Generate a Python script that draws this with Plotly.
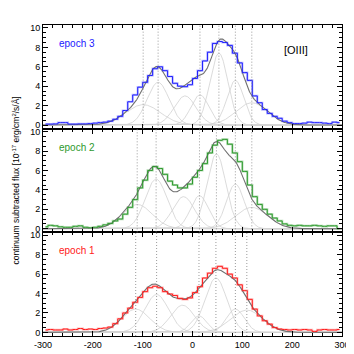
import numpy as np
import plotly.graph_objects as go

# ---------------- data ----------------
velocity = list(range(-295, 300, 10))  # bin centres, km/s

flux_epoch3 = [0.10, 0.10, 0.12, 0.25, 0.25, 0.10, 0.10, 0.12, 0.12, 0.15,
               0.20, 0.25, 0.30, 0.40, 0.60, 0.90, 1.50, 2.40, 3.10, 3.90,
               4.40, 5.10, 5.80, 6.00, 5.60, 5.00, 4.30, 4.00, 3.95, 4.15,
               4.80, 5.60, 6.60, 7.50, 8.40, 8.60, 8.50, 8.20, 7.40, 6.40,
               5.40, 4.60, 3.00, 2.30, 1.60, 1.20, 0.90, 0.70, 0.40, 0.25,
               0.15, 0.15, 0.20, 0.30, 0.25, 0.25, 0.20, 0.15, 0.30, 0.25]

flux_epoch2 = [0.20, 0.35, 0.30, 0.20, 0.15, 0.15, 0.25, 0.30, 0.15, 0.10,
               0.15, 0.25, 0.40, 0.55, 0.80, 1.00, 1.50, 2.20, 3.00, 4.20,
               5.00, 6.00, 6.40, 6.20, 5.60, 4.90, 4.50, 4.20, 4.20, 4.60,
               5.30, 6.00, 6.70, 7.80, 8.60, 9.10, 9.20, 8.70, 7.80, 6.90,
               5.90, 4.50, 3.30, 2.50, 2.00, 1.50, 1.10, 0.80, 0.50, 0.35,
               0.30, 0.35, 0.30, 0.30, 0.35, 0.30, 0.25, 0.30, 0.30, 0.00]

flux_epoch1 = [0.25, 0.30, 0.25, 0.25, 0.35, 0.25, 0.30, 0.40, 0.30, 0.35,
               0.30, 0.40, 0.45, 0.55, 0.90, 1.40, 2.00, 2.50, 3.10, 3.60,
               4.20, 4.60, 4.75, 4.60, 4.20, 3.95, 3.80, 3.50, 3.40, 3.55,
               4.10, 4.70, 5.60, 6.10, 6.60, 6.80, 6.60, 6.00, 5.60, 4.90,
               4.30, 3.40, 2.40, 1.70, 1.20, 0.85, 0.50, 0.35, 0.30, 0.25,
               0.30, 0.25, 0.30, 0.25, 0.10, 0.25, 0.30, 0.25, 0.25, 0.30]

# Gaussian component parameters (centre km/s, amplitude, sigma km/s)
centres_epoch3 = [-99, -69, -15, 15, 53, 86, 119]
amps_epoch3 = [2.1, 4.4, 3.0, 3.1, 7.4, 4.6, 2.3]
sigmas_epoch3 = [35, 22, 22, 18, 18, 17, 32]

centres_epoch2 = [-111, -73, -18, 14, 48, 86, 119]
amps_epoch2 = [2.5, 5.1, 3.3, 3.4, 7.7, 4.6, 2.2]
sigmas_epoch2 = [30, 22, 22, 18, 19, 18, 32]

centres_epoch1 = [-114, -72, -20, 13, 47, 86, 109]
amps_epoch1 = [2.4, 3.9, 2.8, 1.7, 5.6, 2.4, 2.3]
sigmas_epoch1 = [28, 24, 24, 16, 22, 18, 32]

# vertical dotted marker positions (km/s)
markers_epoch3 = [-99, -69, 15, 53, 86, 119]
markers_epoch2 = [-111, -73, 14, 48, 86, 119]
markers_epoch1 = [-114, -72, 13, 47, 86, 109]

epoch_labels = ["epoch 1", "epoch 2", "epoch 3"]
line_label = "[OIII]"
x_ticks = [-300, -200, -100, 0, 100, 200, 300]
y_ticks = [0, 2, 4, 6, 8, 10]

# ---------------- figure ----------------
panels = [
    (flux_epoch1, centres_epoch1, amps_epoch1, sigmas_epoch1, markers_epoch1,
     "#ff2020", "#ffbcbc", "x", "y"),
    (flux_epoch2, centres_epoch2, amps_epoch2, sigmas_epoch2, markers_epoch2,
     "#2e9a2e", "#b4dcb4", "x2", "y2"),
    (flux_epoch3, centres_epoch3, amps_epoch3, sigmas_epoch3, markers_epoch3,
     "#2020ff", "#bcbcff", "x3", "y3"),
]

vgrid = np.linspace(-300, 300, 601)
fig = go.Figure()
shapes = []
for i, (flux, cen, amp, sig, marks, col, pale, xa, ya) in enumerate(panels):
    total = np.zeros_like(vgrid)
    for c, a, s in zip(cen, amp, sig):
        g = a * np.exp(-0.5 * ((vgrid - c) / s) ** 2)
        total += g
        fig.add_trace(go.Scatter(x=vgrid, y=g, mode="lines", xaxis=xa, yaxis=ya,
                                 line=dict(color="#d2d2d2", width=0.8),
                                 showlegend=False, hoverinfo="skip"))
    fig.add_trace(go.Scatter(x=velocity, y=flux, mode="lines", xaxis=xa, yaxis=ya,
                             line=dict(color=pale, width=2.2, shape="hvh"),
                             showlegend=False))
    fig.add_trace(go.Scatter(x=vgrid, y=total, mode="lines", xaxis=xa, yaxis=ya,
                             line=dict(color="#707070", width=1.1),
                             showlegend=False))
    fig.add_trace(go.Scatter(x=velocity, y=flux, mode="lines", xaxis=xa, yaxis=ya,
                             line=dict(color=col, width=1.0, shape="hvh"),
                             showlegend=False))
    for m in marks:
        shapes.append(dict(type="line", xref=xa, yref=ya + " domain",
                           x0=m, x1=m, y0=0, y1=1,
                           line=dict(color="#808080", width=0.8, dash="1px,2px")))

axis_font = dict(family="Liberation Sans, Arial, sans-serif", size=9, color="black")
common_x = dict(range=[-300, 300], showline=True, linecolor="black", linewidth=1,
                mirror="allticks", ticks="inside", ticklen=5, tickcolor="black",
                tickvals=x_ticks, showgrid=False, zeroline=False,
                minor=dict(ticks="inside", ticklen=3, dtick=20, tickcolor="black"),
                tickfont=axis_font)
common_y = dict(range=[-0.37, 10.3], showline=True, linecolor="black", linewidth=1,
                mirror="allticks", ticks="inside", ticklen=5, tickcolor="black",
                tickvals=y_ticks, showgrid=False, zeroline=False,
                minor=dict(ticks="inside", ticklen=3, dtick=0.5, tickcolor="black"),
                tickfont=axis_font)

h = 1 / 3
fig.update_layout(
    width=354, height=354,
    margin=dict(l=35, r=18, t=17, b=18),
    paper_bgcolor="white", plot_bgcolor="white",
    shapes=shapes,
    xaxis=dict(common_x, anchor="y", ticktext=[str(t) for t in x_ticks]),
    xaxis2=dict(common_x, anchor="y2", matches="x", showticklabels=False),
    xaxis3=dict(common_x, anchor="y3", matches="x", showticklabels=False),
    yaxis=dict(common_y, domain=[0, h], anchor="x"),
    yaxis2=dict(common_y, domain=[h, 2 * h], anchor="x2"),
    yaxis3=dict(common_y, domain=[2 * h, 1], anchor="x3"),
)

label_font = dict(family="Liberation Sans, Arial, sans-serif", size=10)
annotations = [
    dict(text=epoch_labels[2], xref="x3", yref="y3", x=-232, y=8.4, showarrow=False,
         xanchor="center", font=dict(label_font, color="#2020ff")),
    dict(text=epoch_labels[1], xref="x2", yref="y2", x=-232, y=8.4, showarrow=False,
         xanchor="center", font=dict(label_font, color="#2e9a2e")),
    dict(text=epoch_labels[0], xref="x", yref="y", x=-232, y=8.4, showarrow=False,
         xanchor="center", font=dict(label_font, color="#ff2020")),
    dict(text=line_label, xref="x3", yref="y3", x=208, y=7.7, showarrow=False,
         xanchor="center", font=dict(family="Liberation Sans, Arial, sans-serif",
                                     size=11, color="black")),
    dict(text="continuum subtracted flux [10<sup>-17</sup> erg/cm<sup>2</sup>/s/Å]",
         xref="paper", yref="paper", x=-0.09, y=0.5, textangle=-90, showarrow=False,
         xanchor="center", yanchor="middle",
         font=dict(family="Liberation Sans, Arial, sans-serif", size=8.5, color="black")),
]
fig.update_layout(annotations=annotations)

fig.write_html("out.html")
